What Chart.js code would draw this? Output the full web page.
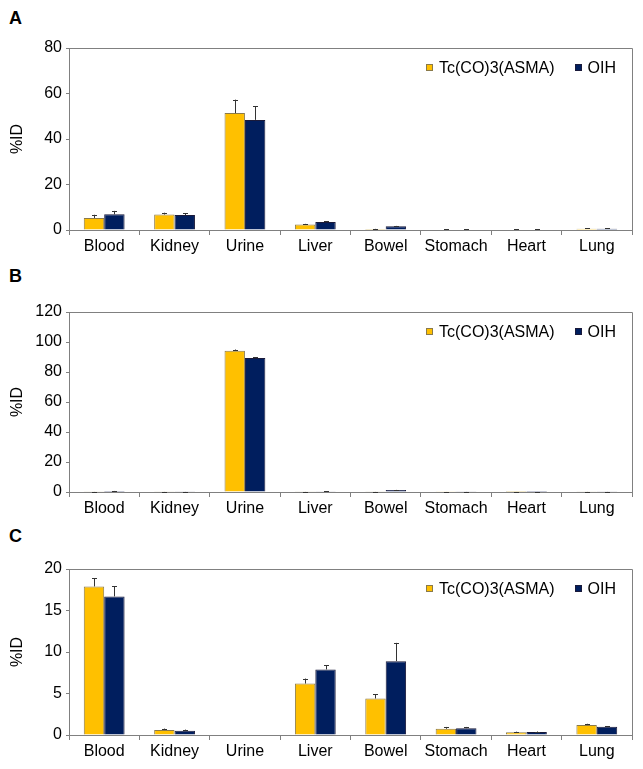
<!DOCTYPE html>
<html>
<head>
<meta charset="utf-8">
<script src="https://cdn.jsdelivr.net/npm/chart.js@4.4.1/dist/chart.umd.min.js"></script>
<style>
  html, body { margin: 0; padding: 0; background: #fff; }
  body { width: 643px; height: 769px; position: relative; overflow: hidden; font-family: "Liberation Sans", Arial, sans-serif; }
  .panel { position: absolute; left: 0; width: 643px; }
  .letter { position: absolute; left: 9px; font-weight: bold; font-size: 18px; line-height: 18px; color: #000; }
</style>
</head>
<body>
<div class="letter" style="top:9px">A</div>
<div class="letter" style="top:267px">B</div>
<div class="letter" style="top:527px">C</div>
<div class="panel" style="top:0px;height:260px"><canvas id="cA"></canvas></div>
<div class="panel" style="top:262px;height:258px"><canvas id="cB"></canvas></div>
<div class="panel" style="top:520px;height:249px"><canvas id="cC"></canvas></div>
<script>
// ---------- data ----------
const categories = ['Blood', 'Kidney', 'Urine', 'Liver', 'Bowel', 'Stomach', 'Heart', 'Lung'];
const seriesNames = ['Tc(CO)3(ASMA)', 'OIH'];
const yAxisTitle = '%ID';

// Panel A
const asmaA     = [5.3, 6.8, 51.4, 2.4, 0.4, 0.2, 0.2, 0.6];
const asmaAErr  = [1.4, 0.8, 5.9, 0.3, 0.1, 0.05, 0.05, 0.1];
const oihA      = [6.9, 6.6, 48.4, 3.5, 1.7, 0.2, 0.2, 0.6];
const oihAErr   = [1.5, 0.8, 6.1, 0.3, 0.1, 0.05, 0.05, 0.1];
const ticksA    = {max: 80, step: 20};

// Panel B
const asmaB     = [0.2, 0.2, 94.1, 0.2, 0.2, 0.1, 0.05, 0.2];
const asmaBErr  = [0.05, 0.05, 0.9, 0.05, 0.05, 0.02, 0.01, 0.05];
const oihB      = [0.6, 0.2, 89.3, 0.5, 1.3, 0.2, 0.05, 0.2];
const oihBErr   = [0.1, 0.05, 0.7, 0.1, 0.1, 0.05, 0.01, 0.05];
const ticksB    = {max: 120, step: 20};

// Panel C
const asmaC     = [17.9, 0.6, 0, 6.2, 4.4, 0.75, 0.32, 1.2];
const asmaCErr  = [1.0, 0.17, 0, 0.6, 0.5, 0.22, 0.08, 0.15];
const oihC      = [16.7, 0.5, 0, 7.9, 8.9, 0.82, 0.36, 1.0];
const oihCErr   = [1.25, 0.15, 0, 0.5, 2.2, 0.15, 0.06, 0.08];
const ticksC    = {max: 20, step: 5};

// ---------- styles ----------
const FONT = '"Liberation Sans", Arial, sans-serif';
const colors = ['#FFC000', '#001E5E'];
const borders = ['#8a7a4a', '#1a1a3a'];
const axisGray = '#808080';

const errorBarPlugin = {
  id: 'errorBars',
  afterDatasetsDraw(chart) {
    const ctx = chart.ctx;
    const yScale = chart.scales.y;
    ctx.save();
    ctx.strokeStyle = '#333';
    ctx.lineWidth = 1;
    chart.data.datasets.forEach((ds, i) => {
      const meta = chart.getDatasetMeta(i);
      meta.data.forEach((bar, j) => {
        const err = ds.errors[j];
        if (!err) return;
        const yTop = yScale.getPixelForValue(ds.data[j] + err);
        const x = Math.round(bar.x) + 0.5;
        ctx.beginPath();
        ctx.moveTo(x, bar.y);
        ctx.lineTo(x, yTop);
        ctx.moveTo(x - 2.5, Math.round(yTop) + 0.5);
        ctx.lineTo(x + 2.5, Math.round(yTop) + 0.5);
        ctx.stroke();
      });
    });
    ctx.restore();
  }
};

const frameLegendPlugin = {
  id: 'frameLegend',
  afterDraw(chart) {
    const ctx = chart.ctx;
    const a = chart.chartArea;
    ctx.save();
    // plot area frame (top & right sides)
    ctx.strokeStyle = axisGray;
    ctx.lineWidth = 1;
    ctx.beginPath();
    ctx.moveTo(Math.round(a.left) + 0.5, Math.round(a.top) + 0.5);
    ctx.lineTo(Math.round(a.right) + 0.5, Math.round(a.top) + 0.5);
    ctx.lineTo(Math.round(a.right) + 0.5, Math.round(a.bottom) + 0.5);
    ctx.stroke();
    // legend
    ctx.font = '16px ' + FONT;
    ctx.textBaseline = 'middle';
    ctx.fillStyle = '#000';
    const yc = a.top + 19.5;
    const names = chart.data.datasets.map(d => d.label);
    let xEnd = a.right - 16;
    const pos = [];
    for (let i = names.length - 1; i >= 0; i--) {
      const w = ctx.measureText(names[i]).width;
      const tx = xEnd - w;
      const sx = tx - 6 - 7;
      pos[i] = {tx, sx};
      xEnd = sx - 20;
    }
    names.forEach((n, i) => {
      const p = pos[i];
      const sx = Math.round(p.sx), sy = Math.round(yc - 3.5);
      ctx.fillStyle = colors[i];
      ctx.fillRect(sx, sy, 7, 7);
      ctx.strokeStyle = borders[i];
      ctx.strokeRect(sx + 0.5, sy + 0.5, 6, 6);
      ctx.fillStyle = '#000';
      ctx.textAlign = 'left';
      ctx.fillText(n, p.tx, yc + 1);
    });
    ctx.restore();
  }
};

function makeChart(id, canvasH, areaTop, areaBottom, s1, e1, s2, e2, tk) {
  const canvas = document.getElementById(id);
  return new Chart(canvas, {
    type: 'bar',
    data: {
      labels: categories,
      datasets: [
        {label: seriesNames[0], data: s1, errors: e1, backgroundColor: colors[0], borderColor: borders[0], borderWidth: 1},
        {label: seriesNames[1], data: s2, errors: e2, backgroundColor: colors[1], borderColor: borders[1], borderWidth: 1}
      ]
    },
    options: {
      responsive: true,
      maintainAspectRatio: false,
      animation: false,
      devicePixelRatio: 1,
      categoryPercentage: 0.58,
      barPercentage: 1.0,
      layout: {padding: {top: areaTop, right: 11, left: 0, bottom: 0}},
      plugins: {legend: {display: false}, tooltip: {enabled: false}},
      scales: {
        x: {
          afterFit(scale) { scale.height = canvasH - areaBottom; },
          grid: {display: true, offset: true, drawOnChartArea: false, drawTicks: true, tickLength: 5, color: axisGray},
          border: {display: true, color: axisGray, width: 1},
          ticks: {font: {family: FONT, size: 16}, color: '#000', padding: 2, maxRotation: 0, autoSkip: false}
        },
        y: {
          min: 0, max: tk.max,
          afterFit(scale) { scale.width = 69; },
          title: {display: true, text: yAxisTitle, font: {family: FONT, size: 16}, color: '#000', padding: {top: 8, bottom: 0}},
          grid: {display: true, drawOnChartArea: false, drawTicks: true, tickLength: 3, color: axisGray},
          border: {display: true, color: axisGray, width: 1},
          ticks: {stepSize: tk.step, font: {family: FONT, size: 16}, color: '#000', padding: 4}
        }
      }
    },
    plugins: [errorBarPlugin, frameLegendPlugin]
  });
}

makeChart('cA', 260, 48, 230, asmaA, asmaAErr, oihA, oihAErr, ticksA);
makeChart('cB', 258, 50, 230, asmaB, asmaBErr, oihB, oihBErr, ticksB);
makeChart('cC', 249, 49, 215, asmaC, asmaCErr, oihC, oihCErr, ticksC);
</script>
</body>
</html>
